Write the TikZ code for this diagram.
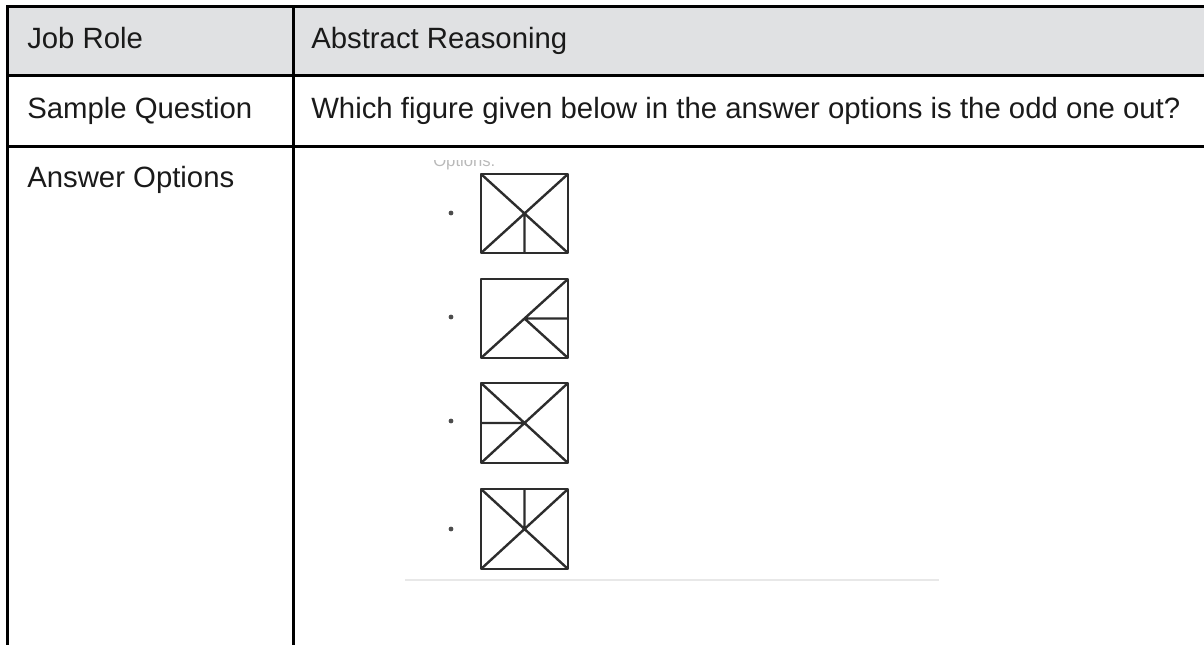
\documentclass[tikz,border=0pt]{standalone}
\usepackage{fontspec}
\setmainfont{Liberation Sans}
\definecolor{headgray}{RGB}{224,225,227}
\definecolor{inkgray}{RGB}{45,45,45}
\definecolor{textblack}{RGB}{26,26,26}

\begin{document}
\begin{tikzpicture}[x=0.75pt,y=-0.75pt,
  rule/.style={line width=2.25pt,black},
  celltext/.style={anchor=base west,inner sep=0pt,text=textblack,
    font=\fontsize{22}{24}\selectfont},
  optbox/.style={line width=1.8pt,inkgray,line join=round},
  optdot/.style={fill=inkgray!85}]
  \useasboundingbox (0,0) rectangle (1204,644);

  % table grid
  \fill[headgray] (7,6) rectangle (1210,75);
  \draw[rule] (6,6) -- (1210,6);
  \draw[rule] (7,75) -- (1210,75);
  \draw[rule] (7,146) -- (1210,146);
  \draw[rule] (7,5) -- (7,650);
  \draw[rule] (293,5) -- (293,650);

  % cell texts
  \node[celltext] (role) at (27,48) {Job Role};
  \node[celltext] (skill) at (311,48) {Abstract Reasoning};
  \node[celltext] (qlabel) at (27,118) {Sample Question};
  \node[celltext] (question) at (311,118) {Which figure given below in the answer options is the odd one out?};
  \node[celltext] (alabel) at (27,187) {Answer Options};

  % pasted options picture
  \begin{scope}
    \clip (400,160) rectangle (560,175);
    \node[anchor=base west,inner sep=0pt,text=gray!55,font=\fontsize{12.5}{14}\selectfont] (optstitle) at (433,166) {Options:};
  \end{scope}

  \draw[optbox] (481,174) rectangle (568,253);
  \draw[optbox] (481,174) -- (568,253) (568,174) -- (481,253) (524.5,213.5) -- (524.5,253);
  \fill[optdot] (451,213) circle (2.4);

  \draw[optbox] (481,279) rectangle (568,358);
  \draw[optbox] (481,358) -- (568,279) (524.5,318.5) -- (568,318.5) (524.5,318.5) -- (568,358);
  \fill[optdot] (451,317) circle (2.4);

  \draw[optbox] (481,383) rectangle (568,463);
  \draw[optbox] (481,383) -- (568,463) (568,383) -- (481,463) (481,423) -- (524.5,423);
  \fill[optdot] (451,421) circle (2.4);

  \draw[optbox] (481,489) rectangle (568,569);
  \draw[optbox] (481,489) -- (568,569) (568,489) -- (481,569) (524.5,489) -- (524.5,529);
  \fill[optdot] (451,529) circle (2.4);

  \draw[line width=2pt,gray!18] (405,580) -- (939,580);
\end{tikzpicture}
\end{document}
